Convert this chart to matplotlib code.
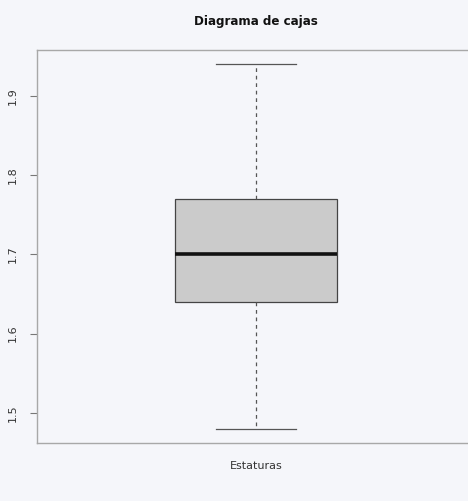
import matplotlib
matplotlib.use("Agg")
import matplotlib.pyplot as plt

# five-number summary of the heights
label = "Estaturas"
whislo = 1.48
q1 = 1.64
med = 1.70
q3 = 1.77
whishi = 1.94
yticks = [1.5, 1.6, 1.7, 1.8, 1.9]

bg = "#f5f6fa"
fig = plt.figure(figsize=(4.68, 5.01), dpi=100, facecolor=bg)
ax = fig.add_axes([37 / 468, 1 - 443 / 501, 438 / 468, 393 / 501])
ax.set_facecolor(bg)

stats = [{"label": label, "whislo": whislo, "q1": q1, "med": med,
          "q3": q3, "whishi": whishi, "fliers": []}]
ax.bxp(stats, positions=[1], widths=0.8, patch_artist=True,
       showfliers=False, capwidths=0.39,
       boxprops=dict(facecolor="#cbcbcb", edgecolor="#444444", linewidth=0.9),
       medianprops=dict(color="#111111", linewidth=2.6),
       whiskerprops=dict(color="#555555", linewidth=0.9, linestyle=(0, (3, 3))),
       capprops=dict(color="#555555", linewidth=0.9))

ax.set_xlim(-0.081, 2.081)
ax.set_ylim(1.462, 1.958)
ax.set_xticks([])
ax.set_yticks(yticks)
ax.set_yticklabels([f"{v:.1f}" for v in yticks], rotation=90, va="center",
                   fontsize=8, color="#333333")
ax.tick_params(axis="y", length=5, width=0.8, color="#777777", pad=9)

for side in ["left", "top", "bottom", "right"]:
    ax.spines[side].set_color("#a8a8a8")
    ax.spines[side].set_linewidth(1.0)

fig.text(256 / 468, 1 - 21 / 501, "Diagrama de cajas", ha="center", va="center",
         fontsize=8.6, fontweight="bold", color="#111111")
fig.text(256 / 468, 1 - 466 / 501, label, ha="center", va="center",
         fontsize=8, color="#333333")

fig.savefig("out.png", dpi=100, facecolor=bg)
